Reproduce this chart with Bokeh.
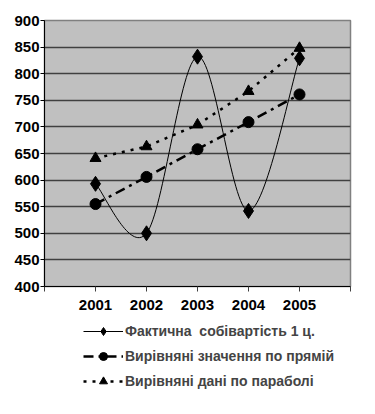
from bokeh.plotting import figure
from bokeh.layouts import column
from bokeh.models import Range1d, FixedTicker, Legend, LegendItem
from bokeh.embed import file_html
from bokeh.resources import INLINE

years = ["2001", "2002", "2003", "2004", "2005"]
actual = [593, 500, 832, 542, 829]
linear = [555, 606, 658, 709, 761]
parabola = [641, 663, 704, 767, 848]
y_ticks = [400, 450, 500, 550, 600, 650, 700, 750, 800, 850, 900]
labels = ["Фактична  собівартість 1 ц.", "Вирівняні значення по прямій", "Вирівняні дані по параболі"]

xs = list(range(1, len(years) + 1))
FONT = "Liberation Sans"

p = figure(width=359, height=321, output_backend="svg", toolbar_location=None,
           x_range=Range1d(0, len(years) + 1), y_range=Range1d(400, 900),
           min_border_left=44, min_border_right=9, min_border_top=20, min_border_bottom=35)
p.border_fill_color = "white"
p.background_fill_color = "#C0C0C0"
p.outline_line_color = "#808080"
p.outline_line_width = 1.5

p.xaxis.ticker = FixedTicker(ticks=list(range(0, len(years) + 2)))
p.xaxis.major_label_overrides = {i + 1: y for i, y in enumerate(years)} | {0: "", len(years) + 1: ""}
p.xaxis.major_tick_out = 5
p.xaxis.major_tick_in = 0
p.xaxis.minor_tick_line_color = None
p.xaxis.major_label_standoff = 8
p.xaxis.axis_line_color = "black"
p.xaxis.major_tick_line_color = "#404040"

p.yaxis.ticker = FixedTicker(ticks=y_ticks)
p.yaxis.major_tick_out = 4
p.yaxis.major_tick_in = 0
p.yaxis.minor_tick_line_color = None
p.yaxis.major_label_standoff = 1
p.yaxis.axis_line_color = "black"

for ax in (p.xaxis, p.yaxis):
    ax.major_label_text_font = FONT
    ax.major_label_text_font_style = "bold"
    ax.major_label_text_font_size = "15px"
    ax.major_label_text_color = "black"

p.xgrid.grid_line_color = None
p.ygrid.grid_line_color = "#404040"
p.ygrid.grid_line_width = 1.5

# smoothed line (Excel-style Bezier) control points computed from the actual values
n = len(xs)
bez = dict(x0=[], y0=[], x1=[], y1=[], cx0=[], cy0=[], cx1=[], cy1=[])
for i in range(n - 1):
    pm = i - 1 if i > 0 else i
    pn = i + 2 if i + 2 < n else i + 1
    bez["x0"].append(xs[i]); bez["y0"].append(actual[i])
    bez["x1"].append(xs[i + 1]); bez["y1"].append(actual[i + 1])
    bez["cx0"].append(xs[i] + (xs[i + 1] - xs[pm]) / 6)
    bez["cy0"].append(actual[i] + (actual[i + 1] - actual[pm]) / 6)
    bez["cx1"].append(xs[i + 1] - (xs[pn] - xs[i]) / 6)
    bez["cy1"].append(actual[i + 1] - (actual[pn] - actual[i]) / 6)


def draw(fig):
    r = []
    r.append(fig.bezier(**bez, line_color="black", line_width=1))
    r.append(fig.scatter(xs, actual, marker="diamond", size=15, fill_color="black", line_color="black"))
    r.append(fig.line(xs, linear, line_color="black", line_width=2.5, line_dash="10 5 3 5"))
    r.append(fig.scatter(xs, linear, marker="circle", size=11, fill_color="black", line_color="black"))
    r.append(fig.line(xs, parabola, line_color="black", line_width=2.5, line_dash="3 6"))
    r.append(fig.scatter(xs, parabola, marker="triangle", size=11, fill_color="black", line_color="black"))
    return r


draw(p)

# legend panel below the chart (its glyphs lie outside its visible range)
lg = figure(width=359, height=77, output_backend="svg", toolbar_location=None,
            x_range=Range1d(-10, -9), y_range=Range1d(-10, -9),
            min_border_left=0, min_border_right=0, min_border_top=0, min_border_bottom=0)
lg.axis.visible = False
lg.grid.visible = False
lg.outline_line_color = None
lg.background_fill_color = "white"
rr = draw(lg)
legend = Legend(items=[
    LegendItem(label=labels[0], renderers=[rr[0], rr[1]]),
    LegendItem(label=labels[1], renderers=[rr[2], rr[3]]),
    LegendItem(label=labels[2], renderers=[rr[4], rr[5]]),
], location=(39, 7))
legend.border_line_color = None
legend.background_fill_alpha = 0
legend.padding = 0
legend.margin = 0
legend.spacing = 5
legend.glyph_width = 40
legend.glyph_height = 20
legend.label_standoff = 2
legend.label_text_font = FONT
legend.label_text_font_style = "bold"
legend.label_text_font_size = "14px"
legend.label_height = 20
lg.add_layout(legend, "center")

open("out.html", "w").write(file_html(column(p, lg), INLINE))
